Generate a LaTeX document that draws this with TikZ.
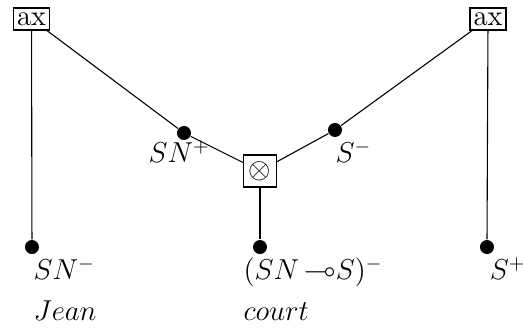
\documentclass[tikz,border=0pt]{standalone}
\usepackage{amsmath,amssymb}
\usepackage{tikz}
\usetikzlibrary{positioning, calc}

\begin{document}
\begin{tikzpicture}[
  font=\Large,
  line width=0.55pt,
  every node/.style={align=center},
  axbox/.style={draw, rectangle, inner xsep=1.6pt, inner ysep=2pt, minimum height=11pt, minimum width=18pt},
  tensbox/.style={draw, rectangle, minimum width=16.5pt, minimum height=16pt, inner sep=1pt},
  dot/.style={circle, fill=black, inner sep=0pt, minimum size=7pt},
  lbl/.style={inner sep=0pt, anchor=base west},
]
\useasboundingbox (0,0) rectangle (9.191,-5.781);

%% Axiom links at the top
\node[axbox] (axl) at (0.554, -0.334) {ax};
\node[axbox] (axr) at (8.576, -0.334) {ax};

%% Tensor link in the middle
\node[tensbox] (tens) at (4.569, -3.005) {$\otimes$};

%% Dots
\node[dot] (snp) at (3.233, -2.337) {};
\node[dot] (sm)  at (5.887, -2.284) {};
\node[dot] (jean) at (0.562, -4.341) {};
\node[dot] (court) at (4.569, -4.341) {};
\node[dot] (sp) at (8.558, -4.341) {};

%% Labels
\node[lbl] (lsnp) at (2.60, -2.86) {$SN^{+}$};
\node[lbl] (lsm) at (5.89, -2.86) {$S^{-}$};
\node[lbl] (lsnm) at (0.58, -4.92) {$SN^{-}$};
\node[lbl] (ljean) at (0.58, -5.63) {$Jean$};
\node[lbl] (lcourt) at (4.27, -4.92) {$(SN\,{\multimap}S)^{-}$};
\node[lbl] (lword) at (4.27, -5.63) {$court$};
\node[lbl] (lsp) at (8.60, -4.92) {$S^{+}$};

%% Connectors
\draw (axl) -- (jean);
\draw (axl) -- (snp);
\draw (snp) -- (tens);
\draw (axr) -- (sp);
\draw (axr) -- (sm);
\draw (sm) -- (tens);
\draw (tens) -- (court);

\end{tikzpicture}
\end{document}
